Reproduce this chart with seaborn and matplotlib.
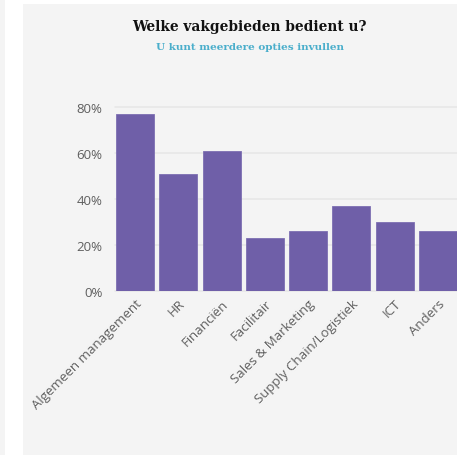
import matplotlib
matplotlib.use("Agg")
import matplotlib.pyplot as plt
import matplotlib.patches as mpatches
import seaborn as sns
import pandas as pd

# survey answers (multiple choice, % of respondents)
categories = ["Algemeen management", "HR", "Financiën", "Facilitair",
              "Sales & Marketing", "Supply Chain/Logistiek", "ICT", "Anders"]
percentages = [77, 51, 61, 23, 26, 37, 30, 26]
yticks = [0, 20, 40, 60, 80]
ytick_labels = ["0%", "20%", "40%", "60%", "80%"]

df = pd.DataFrame({"vakgebied": categories, "pct": percentages})

sns.set_theme(style="white")
plt.rcParams["font.family"] = ["Open Sans", "DejaVu Sans"]

W, H = 457, 456
fig = plt.figure(figsize=(W / 100, H / 100), dpi=100, facecolor="white")

# background panels
fig.patches.append(mpatches.Rectangle((0, 0), 5 / W, 1, transform=fig.transFigure,
                                      facecolor="#f4f4f4", edgecolor="none", zorder=-2))
fig.patches.append(mpatches.Rectangle((23 / W, 0), 1, (H - 5) / H, transform=fig.transFigure,
                                      facecolor="#f4f4f4", edgecolor="none", zorder=-2))

ax = fig.add_axes([115 / W, (H - 292) / H, 342 / W, 184 / H])
ax.set_facecolor("none")

sns.barplot(data=df, x="vakgebied", y="pct", color="#6f5fa8", width=0.88,
            saturation=1, edgecolor="#7d6fb2", linewidth=0.6, ax=ax, zorder=3)

ax.set_ylim(0, 80)
ax.set_xlim(-0.463, 7.44)
ax.set_yticks(yticks)
ax.set_yticklabels(ytick_labels)
for y in yticks:
    ax.axhline(y, color="#e6e6e6", linewidth=1.1, zorder=1, clip_on=False)

for s in ax.spines.values():
    s.set_visible(False)
ax.set_xlabel("")
ax.set_ylabel("")
ax.tick_params(axis="both", length=0, colors="#5f5f5f", labelsize=9.5)
ax.tick_params(axis="y", pad=9)
ax.tick_params(axis="x", pad=4)
plt.setp(ax.get_xticklabels(), rotation=45, ha="right", rotation_mode="anchor")

fig.text(249 / W, 1 - 27 / H, "Welke vakgebieden bedient u?", ha="center", va="center",
         family="DejaVu Serif", fontweight="bold", fontsize=9.9, color="#111111")
fig.text(250 / W, 1 - 47 / H, "U kunt meerdere opties invullen", ha="center", va="center",
         family="DejaVu Serif", fontweight="bold", fontsize=7.5, color="#4aaecb")

fig.savefig("out.png", dpi=100, facecolor=fig.get_facecolor())
